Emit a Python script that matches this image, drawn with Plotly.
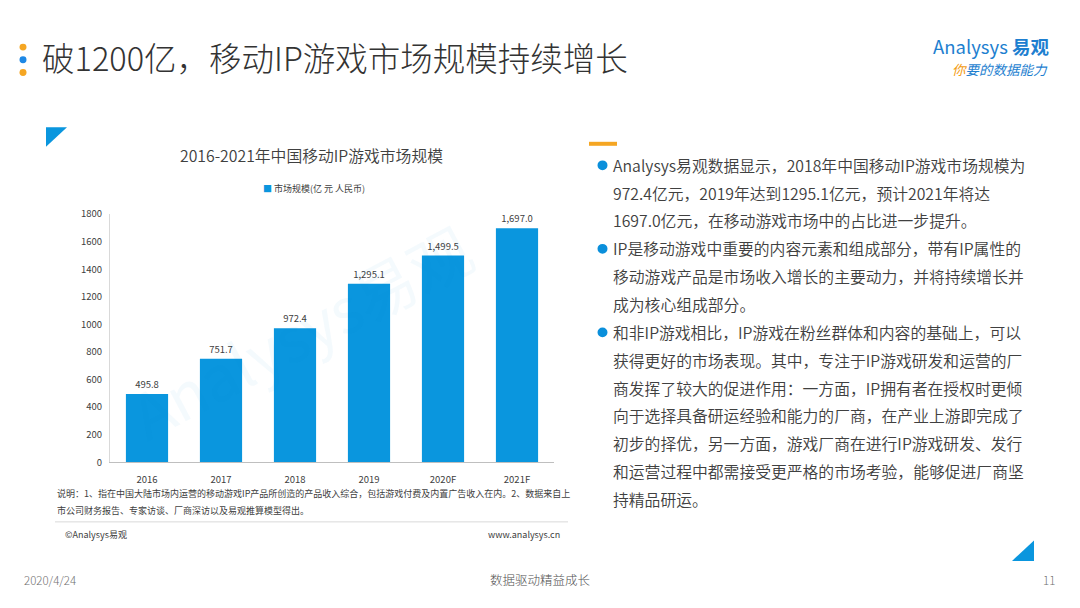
import plotly.graph_objects as go

# ---- data ----
years = ["2016", "2017", "2018", "2019", "2020F", "2021F"]
market_size = [495.8, 751.7, 972.4, 1295.1, 1499.5, 1697.0]
series_name = "市场规模(亿 元 人民币)"
y_ticks = [0, 200, 400, 600, 800, 1000, 1200, 1400, 1600, 1800]

page_title = "破1200亿，移动IP游戏市场规模持续增长"
chart_title = "2016-2021年中国移动IP游戏市场规模"
note_lines = [
    "说明：1、指在中国大陆市场内运营的移动游戏IP产品所创造的产品收入综合，包括游戏付费及内置广告收入在内。2、数据来自上",
    "市公司财务报告、专家访谈、厂商深访以及易观推算模型得出。",
]
bullets = [
    ["Analysys易观数据显示，2018年中国移动IP游戏市场规模为",
     "972.4亿元，2019年达到1295.1亿元，预计2021年将达",
     "1697.0亿元，在移动游戏市场中的占比进一步提升。"],
    ["IP是移动游戏中重要的内容元素和组成部分，带有IP属性的",
     "移动游戏产品是市场收入增长的主要动力，并将持续增长并",
     "成为核心组成部分。"],
    ["和非IP游戏相比，IP游戏在粉丝群体和内容的基础上，可以",
     "获得更好的市场表现。其中，专注于IP游戏研发和运营的厂",
     "商发挥了较大的促进作用：一方面，IP拥有者在授权时更倾",
     "向于选择具备研运经验和能力的厂商，在产业上游即完成了",
     "初步的择优，另一方面，游戏厂商在进行IP游戏研发、发行",
     "和运营过程中都需接受更严格的市场考验，能够促进厂商坚",
     "持精品研运。"],
]

W, H = 1080, 608
def px(x): return x / W
def py(y): return 1 - y / H

FONT = "Noto Sans CJK SC"
BLUE = "#0A96DE"
ORANGE = "#F5A623"

fig = go.Figure()
fig.add_trace(go.Bar(
    x=years, y=market_size, name=series_name,
    marker=dict(color=BLUE, line=dict(width=0)),
    texttemplate="%{y:,.1f}", textposition="outside",
    textfont=dict(size=9.5, color="#404040", family=FONT),
    cliponaxis=False, showlegend=False,
))

annotations = []
shapes = []

def ann(x, y, text, size, color="#404040", xanchor="left", yanchor="middle", weight=400, **kw):
    annotations.append(dict(x=px(x), y=py(y), xref="paper", yref="paper", text=text,
                            showarrow=False, xanchor=xanchor, yanchor=yanchor,
                            font=dict(size=size, color=color, family=FONT, weight=weight), **kw))

# header
ann(40, 50, page_title, 32.5, "#333333", weight=300)
for yy, c in [(40, ORANGE), (53, "#1E88E5"), (66, ORANGE)]:
    shapes.append(dict(type="circle", xref="paper", yref="paper",
                       x0=px(19.5), x1=px(26.5), y0=py(yy - 3.5), y1=py(yy + 3.5),
                       fillcolor=c, line=dict(width=0)))
# logo
ann(1051, 39, "Analysys <b>易观</b>", 18.5, "#1E7FD0", xanchor="right")
ann(1050, 62, '<i><span style="color:#F39C12">你</span>要的数据能力</i>', 13.5, "#1E7FD0", xanchor="right")

# decorations
shapes.append(dict(type="path", xref="paper", yref="paper",
                   path=f"M {px(46)},{py(122)} L {px(67)},{py(122)} L {px(46)},{py(142)} Z",
                   fillcolor=BLUE, line=dict(width=0)))
shapes.append(dict(type="path", xref="paper", yref="paper",
                   path=f"M {px(1034)},{py(545)} L {px(1034)},{py(566)} L {px(1012)},{py(566)} Z",
                   fillcolor=BLUE, line=dict(width=0)))
shapes.append(dict(type="line", xref="paper", yref="paper",
                   x0=px(589), x1=px(617), y0=py(139), y1=py(139),
                   line=dict(color=ORANGE, width=4)))

# chart title, legend and watermark
ann(312, 151, chart_title, 15.8, "#404040", xanchor="center", weight=350)
ann(314, 185, f'<span style="color:{BLUE}">■</span> {series_name}', 9, "#404040", xanchor="center")
ann(300, 330, "Analysys易观", 62, "rgba(0,150,220,0.045)", xanchor="center", textangle=-28)

# notes
ann(55, 497, note_lines[0], 9, "#404040")
ann(55, 514, note_lines[1], 9, "#404040")
shapes.append(dict(type="line", xref="paper", yref="paper",
                   x0=px(55), x1=px(568), y0=py(526), y1=py(526),
                   line=dict(color="#D9D9D9", width=1)))
ann(63, 539, "©Analysys易观", 9, "#404040")
ann(562, 539, "www.analysys.cn", 9, "#404040", xanchor="right")

# bullet text
y = 161
for para in bullets:
    shapes.append(dict(type="circle", xref="paper", yref="paper",
                       x0=px(597.5), x1=px(607.5), y0=py(y - 5), y1=py(y + 5),
                       fillcolor="#0A8FDB", line=dict(width=0)))
    for line in para:
        ann(611, y, line, 15.8, "#404040", weight=350)
        y += 28.5

# footer
ann(22, 585, "2020/4/24", 11.5, "#707070", weight=300)
ann(540, 585, "数据驱动精益成长", 12.5, "#505050", xanchor="center", weight=300)
ann(1057, 585, "11", 11.5, "#707070", xanchor="right", weight=300)

fig.update_layout(
    width=W, height=H,
    margin=dict(l=0, r=0, t=0, b=0),
    paper_bgcolor="white", plot_bgcolor="white",
    font=dict(family=FONT, color="#404040"),
    bargap=0.43,
    showlegend=False,
    xaxis=dict(domain=[px(110), px(554)], showgrid=False, showline=True,
               linecolor="#BFBFBF", linewidth=1, ticks="", ticklabelstandoff=8,
               tickfont=dict(size=9.5, color="#404040")),
    yaxis=dict(domain=[py(465), py(211)], range=[0, 1800], tickvals=y_ticks,
               showgrid=False, showline=True, linecolor="#D9D9D9", linewidth=1,
               ticks="", zeroline=False, ticklabelstandoff=5,
               tickfont=dict(size=9.5, color="#404040")),
    annotations=annotations, shapes=shapes,
)

fig.write_html("out.html", config={"displayModeBar": False},
               post_script="document.body.style.margin='0px';document.body.style.overflow='hidden';")
